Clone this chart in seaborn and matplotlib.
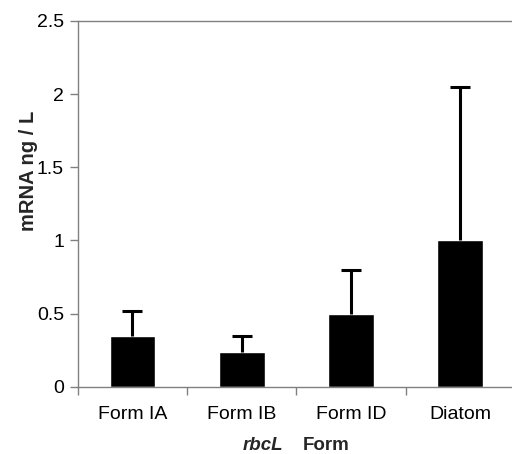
import matplotlib
matplotlib.use("Agg")
import matplotlib.pyplot as plt
import numpy as np
import pandas as pd
import seaborn as sns

forms = ["Form IA", "Form IB", "Form ID", "Diatom"]
mrna_mean = [0.345, 0.235, 0.50, 1.0]
mrna_err = [0.17, 0.115, 0.30, 1.05]
y_ticks = [0, 0.5, 1, 1.5, 2, 2.5]
y_tick_labels = ["0", "0.5", "1", "1.5", "2", "2.5"]

sns.set_theme(style="ticks")
plt.rcParams["font.family"] = ["Liberation Sans", "DejaVu Sans"]

df = pd.DataFrame({"form": forms, "mrna": mrna_mean})

fig = plt.figure(figsize=(5.12, 4.54), dpi=100)
ax = fig.add_axes([0.152, 0.148, 0.854, 0.806])

sns.barplot(data=df, x="form", y="mrna", color="black", saturation=1,
            width=0.42, errorbar=None, ax=ax)
# one-sided (upper) error bars
_, caps, _ = ax.errorbar(np.arange(len(forms)), mrna_mean,
                         yerr=[np.zeros(len(forms)), mrna_err],
                         fmt="none", ecolor="black", elinewidth=2.2,
                         capsize=7, capthick=2.2)
for cap in caps:
    if np.allclose(cap.get_ydata(), mrna_mean):
        cap.set_visible(False)

ax.set_xlim(-0.5, 3.5)
ax.set_ylim(0, 2.5)
ax.set_yticks(y_ticks)
ax.set_yticklabels(y_tick_labels)
ax.set_xticks(np.arange(len(forms)))
ax.set_xticklabels(forms)
ax.set_xticks(np.arange(-0.5, len(forms), 1.0), minor=True)
ax.tick_params(axis="x", which="major", length=0, pad=14, labelsize=14, colors="black")
ax.tick_params(axis="x", which="minor", length=6, width=1, color="#808080")
ax.tick_params(axis="y", length=6, width=1, color="#808080", labelsize=14,
               labelcolor="black", pad=4)

for side in ["left", "bottom", "top"]:
    ax.spines[side].set_color("#808080")
    ax.spines[side].set_linewidth(1.0)
ax.spines["right"].set_visible(False)

ax.set_xlabel("")
ax.set_ylabel("mRNA ng / L", fontsize=14.5, fontweight="bold")
ax.yaxis.set_label_coords(-0.09, 0.589)

fig.text(0.553, 0.008, "rbcL", ha="right", va="baseline", fontsize=13.5,
         fontweight="bold", fontstyle="italic")
fig.text(0.592, 0.008, "Form", ha="left", va="baseline", fontsize=13.5,
         fontweight="bold")

fig.savefig("out.png", dpi=100)
